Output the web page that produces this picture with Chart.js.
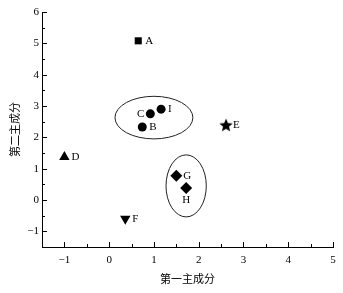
<!DOCTYPE html>
<html>
<head>
<meta charset="utf-8">
<script src="https://cdn.jsdelivr.net/npm/chart.js@4"></script>
<style>
   html, body { margin: 0; padding: 0; background: #fff; }
   #wrap { width: 343px; height: 293px; }
</style>
</head>
<body>
<div id="wrap"><canvas id="graph"></canvas></div>
<script>
// Données
const pointNames = ['A', 'B', 'C', 'D', 'E', 'F', 'G', 'H', 'I'];
const pc1Values = [0.65, 0.74, 0.92, -1.0, 2.61, 0.36, 1.5, 1.72, 1.16];
const pc2Values = [5.08, 2.33, 2.75, 1.37, 2.4, -0.6, 0.77, 0.38, 2.9];

// Groupes entourés : centre et demi-axes (en unités des axes)
const groupCenterX = [1.0, 1.72];
const groupCenterY = [2.63, 0.45];
const groupRadiusX = [0.87, 0.45];
const groupRadiusY = [0.68, 0.99];

const xTicks = [-1, 0, 1, 2, 3, 4, 5];
const yTicks = [-1, 0, 1, 2, 3, 4, 5, 6];

const serif = "'Liberation Serif', 'DejaVu Serif', serif";
const cjk = "'Noto Sans CJK SC', sans-serif";

// Etoile pleine (le 'star' de Chart.js n'est pas plein)
function makeStar(size) {
   const c = document.createElement('canvas');
   c.width = size; c.height = size;
   const ctx = c.getContext('2d');
   const r = size / 2, r2 = r * 0.45;
   ctx.beginPath();
   for (let i = 0; i < 10; i++) {
      const a = -Math.PI / 2 + i * Math.PI / 5;
      const rr = i % 2 === 0 ? r : r2;
      ctx.lineTo(r + rr * Math.cos(a), r + 0.8 + rr * Math.sin(a));
   }
   ctx.closePath();
   ctx.fillStyle = '#000';
   ctx.fill();
   return c;
}

const markerFor = {
   A: { style: 'rect', radius: 5, rotation: 0 },
   B: { style: 'circle', radius: 4.5, rotation: 0 },
   C: { style: 'circle', radius: 4.5, rotation: 0 },
   I: { style: 'circle', radius: 4.5, rotation: 0 },
   D: { style: 'triangle', radius: 6, rotation: 0 },
   F: { style: 'triangle', radius: 6, rotation: 180 },
   E: { style: makeStar(14), radius: 7, rotation: 0 },
   G: { style: 'rectRot', radius: 6, rotation: 0 },
   H: { style: 'rectRot', radius: 6, rotation: 0 }
};

// Position des étiquettes : à droite par défaut
const labelPlace = { C: 'left', H: 'below' };

const points = pointNames.map((n, i) => ({ x: pc1Values[i], y: pc2Values[i], name: n }));

const decorPlugin = {
   id: 'decor',
   afterDatasetsDraw(chart) {
      const ctx = chart.ctx;
      const xs = chart.scales.x, ys = chart.scales.y;
      const area = chart.chartArea;
      ctx.save();
      // ellipses
      ctx.strokeStyle = '#222';
      ctx.lineWidth = 1;
      for (let k = 0; k < groupCenterX.length; k++) {
         const cx = xs.getPixelForValue(groupCenterX[k]);
         const cy = ys.getPixelForValue(groupCenterY[k]);
         const rx = Math.abs(xs.getPixelForValue(groupCenterX[k] + groupRadiusX[k]) - cx);
         const ry = Math.abs(ys.getPixelForValue(groupCenterY[k] + groupRadiusY[k]) - cy);
         ctx.beginPath();
         ctx.ellipse(cx, cy, rx, ry, 0, 0, Math.PI * 2);
         ctx.stroke();
      }
      // graduations vers l'intérieur
      ctx.strokeStyle = '#000';
      ctx.beginPath();
      for (let v = xs.min; v <= xs.max + 1e-9; v += 0.5) {
         const px = Math.round(xs.getPixelForValue(v)) + 0.5;
         const len = Number.isInteger(v) ? 5 : 3;
         ctx.moveTo(px, area.bottom);
         ctx.lineTo(px, area.bottom - len);
      }
      for (let v = ys.min; v <= ys.max + 1e-9; v += 0.5) {
         const py = Math.round(ys.getPixelForValue(v)) + 0.5;
         const len = Number.isInteger(v) ? 5 : 3;
         ctx.moveTo(area.left, py);
         ctx.lineTo(area.left + len, py);
      }
      ctx.stroke();
      // étiquettes des points
      ctx.fillStyle = '#000';
      ctx.font = '11px ' + serif;
      points.forEach(p => {
         const px = xs.getPixelForValue(p.x);
         const py = ys.getPixelForValue(p.y);
         const place = labelPlace[p.name] || 'right';
         if (place === 'left') {
            ctx.textAlign = 'right'; ctx.textBaseline = 'middle';
            ctx.fillText(p.name, px - 6, py);
         } else if (place === 'below') {
            ctx.textAlign = 'center'; ctx.textBaseline = 'top';
            ctx.fillText(p.name, px, py + 7);
         } else {
            ctx.textAlign = 'left'; ctx.textBaseline = 'middle';
            ctx.fillText(p.name, px + 7, py);
         }
      });
      ctx.restore();
   }
};

new Chart(
   document.getElementById('graph'),
   {
      type: 'scatter',
      data: {
         datasets: [
            {
               label: 'échantillons',
               data: points,
               backgroundColor: '#000',
               borderColor: '#000',
               borderWidth: 0,
               pointStyle: points.map(p => markerFor[p.name].style),
               pointRadius: points.map(p => markerFor[p.name].radius),
               rotation: points.map(p => markerFor[p.name].rotation)
            }
         ]
      },
      options: {
         responsive: true,
         maintainAspectRatio: false,
         animation: false,
         events: [],
         layout: {
            padding: { top: 12, right: 10, left: 0, bottom: 0 }
         },
         plugins: {
            legend: { display: false },
            tooltip: { enabled: false }
         },
         scales: {
            x: {
               type: 'linear',
               min: -1.5,
               max: 5,
               afterBuildTicks: s => { s.ticks = xTicks.map(v => ({ value: v })); },
               afterFit: s => { s.height = 46; },
               ticks: {
                  color: '#000',
                  padding: 7,
                  font: { family: serif, size: 11 },
                  callback: v => String(v).replace('-', '\u2212')
               },
               grid: { display: false, drawTicks: false },
               border: { display: true, color: '#000', width: 1 },
               title: {
                  display: true,
                  text: '第一主成分',
                  color: '#000',
                  font: { family: cjk, size: 11 },
                  padding: { top: 8, bottom: 8 }
               }
            },
            y: {
               type: 'linear',
               min: -1.5,
               max: 6,
               afterBuildTicks: s => { s.ticks = yTicks.map(v => ({ value: v })); },
               afterFit: s => { s.width = 42; },
               ticks: {
                  color: '#000',
                  padding: 3,
                  font: { family: serif, size: 11 },
                  callback: v => String(v).replace('-', '\u2212')
               },
               grid: { display: false, drawTicks: false },
               border: { display: true, color: '#000', width: 1 },
               title: {
                  display: true,
                  text: '第二主成分',
                  color: '#000',
                  font: { family: cjk, size: 11 },
                  padding: { top: 8, bottom: 8 }
               }
            }
         }
      },
      plugins: [decorPlugin]
   }
);
</script>
</body>
</html>
